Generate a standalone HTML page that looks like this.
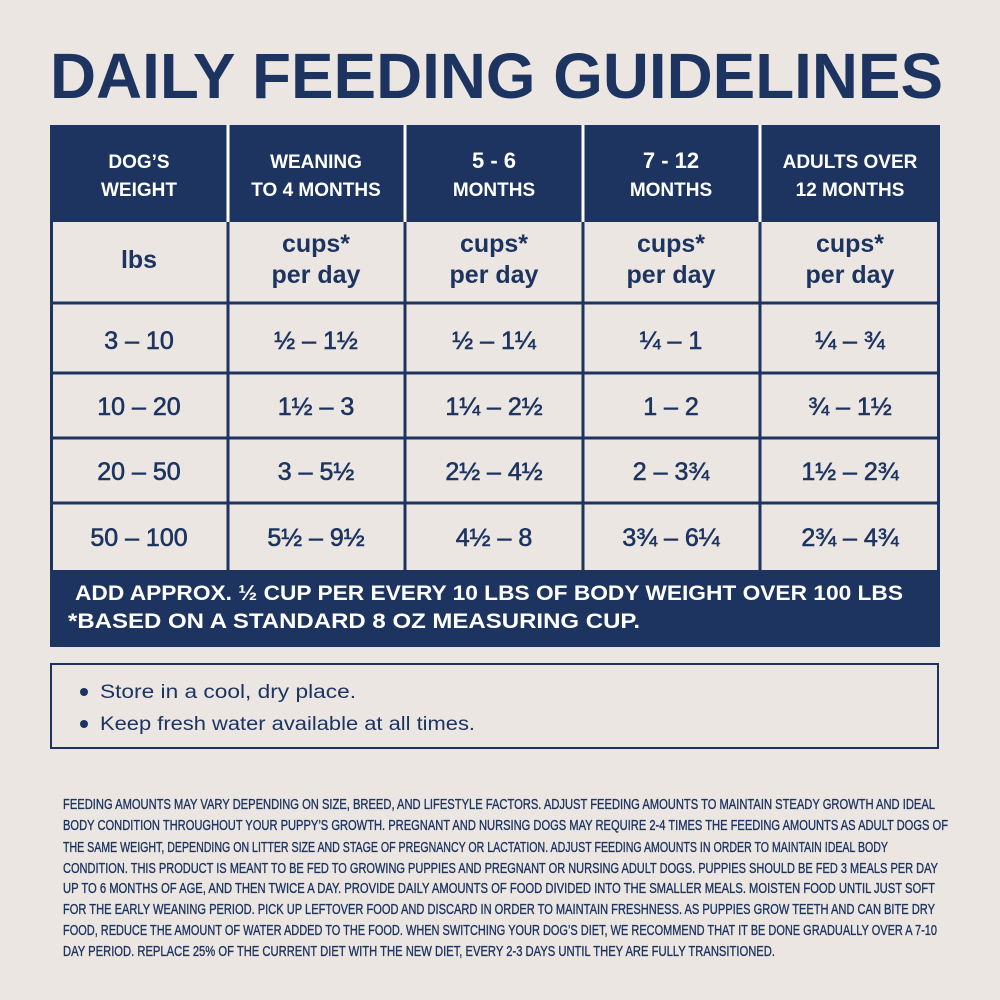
<!DOCTYPE html>
<html><head><meta charset="utf-8"><style>
html,body{margin:0;padding:0;background:#ebe6e1;}
svg{display:block}
</style></head><body>
<svg width="1000" height="1000" viewBox="0 0 1000 1000" xmlns="http://www.w3.org/2000/svg">
<rect width="1000" height="1000" fill="#ebe6e1"/>
<g font-family="Liberation Sans, sans-serif" fill="#1d3461">
<text x="50" y="98" font-size="64" font-weight="bold" textLength="893" lengthAdjust="spacingAndGlyphs">DAILY FEEDING GUIDELINES</text>
</g>
<rect x="50" y="125" width="890" height="97" fill="#1d3461"/>
<rect x="50" y="570" width="890" height="77" fill="#1d3461"/>
<rect x="51.5" y="126.5" width="887" height="519" fill="none" stroke="#1d3461" stroke-width="3"/>
<g stroke="#ffffff" stroke-width="3">
<line x1="228" y1="125" x2="228" y2="222"/><line x1="405" y1="125" x2="405" y2="222"/>
<line x1="583" y1="125" x2="583" y2="222"/><line x1="760" y1="125" x2="760" y2="222"/>
</g>
<g stroke="#1d3461" stroke-width="3">
<line x1="228" y1="222" x2="228" y2="570"/><line x1="405" y1="222" x2="405" y2="570"/>
<line x1="583" y1="222" x2="583" y2="570"/><line x1="760" y1="222" x2="760" y2="570"/>
<line x1="50" y1="303" x2="940" y2="303"/><line x1="50" y1="373" x2="940" y2="373"/>
<line x1="50" y1="438" x2="940" y2="438"/><line x1="50" y1="503" x2="940" y2="503"/>
</g>
<g font-family="Liberation Sans, sans-serif" font-weight="bold" font-size="19" fill="#ffffff" text-anchor="middle">
<text x="139" y="168">DOG’S</text><text x="139" y="196">WEIGHT</text>
<text x="316" y="168">WEANING</text><text x="316" y="196">TO 4 MONTHS</text>
<text x="494" y="168" font-size="22">5 - 6</text><text x="494" y="196">MONTHS</text>
<text x="671" y="168" font-size="22">7 - 12</text><text x="671" y="196">MONTHS</text>
<text x="850" y="168">ADULTS OVER</text><text x="850" y="196">12 MONTHS</text>
</g>
<g font-family="Liberation Sans, sans-serif" font-weight="bold" font-size="25" fill="#1d3461" text-anchor="middle">
<text x="139" y="268">lbs</text>
<text x="316" y="252">cups*</text><text x="316" y="283">per day</text>
<text x="494" y="252">cups*</text><text x="494" y="283">per day</text>
<text x="671" y="252">cups*</text><text x="671" y="283">per day</text>
<text x="850" y="252">cups*</text><text x="850" y="283">per day</text>
</g>
<g font-family="Liberation Sans, sans-serif" font-size="25" fill="#1d3461" stroke="#1d3461" stroke-width="0.6" text-anchor="middle">
<text x="139" y="349">3 – 10</text><text x="316" y="349">½ – 1½</text><text x="494" y="349">½ – 1¼</text><text x="671" y="349">¼ – 1</text><text x="850" y="349">¼ – ¾</text>
<text x="139" y="415">10 – 20</text><text x="316" y="415">1½ – 3</text><text x="494" y="415">1¼ – 2½</text><text x="671" y="415">1 – 2</text><text x="850" y="415">¾ – 1½</text>
<text x="139" y="480">20 – 50</text><text x="316" y="480">3 – 5½</text><text x="494" y="480">2½ – 4½</text><text x="671" y="480">2 – 3¾</text><text x="850" y="480">1½ – 2¾</text>
<text x="139" y="546">50 – 100</text><text x="316" y="546">5½ – 9½</text><text x="494" y="546">4½ – 8</text><text x="671" y="546">3¾ – 6¼</text><text x="850" y="546">2¾ – 4¾</text>
</g>
<g font-family="Liberation Sans, sans-serif" font-weight="bold" font-size="21" fill="#ffffff">
<text x="75" y="600" textLength="828" lengthAdjust="spacingAndGlyphs">ADD APPROX. ½ CUP PER EVERY 10 LBS OF BODY WEIGHT OVER 100 LBS</text>
<text x="68" y="628" textLength="572" lengthAdjust="spacingAndGlyphs">*BASED ON A STANDARD 8 OZ MEASURING CUP.</text>
</g>
<rect x="51" y="664" width="887" height="84" fill="none" stroke="#1d3461" stroke-width="2"/>
<g font-family="Liberation Sans, sans-serif" font-size="19" fill="#1d3461">
<circle cx="84" cy="692" r="4"/><circle cx="84" cy="724" r="4"/>
<text x="100" y="698" textLength="256" lengthAdjust="spacingAndGlyphs">Store in a cool, dry place.</text>
<text x="100" y="730" textLength="375" lengthAdjust="spacingAndGlyphs">Keep fresh water available at all times.</text>
</g>
<g font-family="Liberation Sans Narrow, Liberation Sans, sans-serif" font-size="15" fill="#1d3461" stroke="#1d3461" stroke-width="0.35">
<text x="63" y="809" textLength="872" lengthAdjust="spacingAndGlyphs">FEEDING AMOUNTS MAY VARY DEPENDING ON SIZE, BREED, AND LIFESTYLE FACTORS. ADJUST FEEDING AMOUNTS TO MAINTAIN STEADY GROWTH AND IDEAL</text>
<text x="63" y="830" textLength="885" lengthAdjust="spacingAndGlyphs">BODY CONDITION THROUGHOUT YOUR PUPPY’S GROWTH. PREGNANT AND NURSING DOGS MAY REQUIRE 2-4 TIMES THE FEEDING AMOUNTS AS ADULT DOGS OF</text>
<text x="63" y="852" textLength="825" lengthAdjust="spacingAndGlyphs">THE SAME WEIGHT, DEPENDING ON LITTER SIZE AND STAGE OF PREGNANCY OR LACTATION. ADJUST FEEDING AMOUNTS IN ORDER TO MAINTAIN IDEAL BODY</text>
<text x="63" y="873" textLength="875" lengthAdjust="spacingAndGlyphs">CONDITION. THIS PRODUCT IS MEANT TO BE FED TO GROWING PUPPIES AND PREGNANT OR NURSING ADULT DOGS. PUPPIES SHOULD BE FED 3 MEALS PER DAY</text>
<text x="63" y="893" textLength="872" lengthAdjust="spacingAndGlyphs">UP TO 6 MONTHS OF AGE, AND THEN TWICE A DAY. PROVIDE DAILY AMOUNTS OF FOOD DIVIDED INTO THE SMALLER MEALS. MOISTEN FOOD UNTIL JUST SOFT</text>
<text x="63" y="914" textLength="872" lengthAdjust="spacingAndGlyphs">FOR THE EARLY WEANING PERIOD. PICK UP LEFTOVER FOOD AND DISCARD IN ORDER TO MAINTAIN FRESHNESS. AS PUPPIES GROW TEETH AND CAN BITE DRY</text>
<text x="63" y="935" textLength="874" lengthAdjust="spacingAndGlyphs">FOOD, REDUCE THE AMOUNT OF WATER ADDED TO THE FOOD. WHEN SWITCHING YOUR DOG’S DIET, WE RECOMMEND THAT IT BE DONE GRADUALLY OVER A 7-10</text>
<text x="63" y="956" textLength="712" lengthAdjust="spacingAndGlyphs">DAY PERIOD. REPLACE 25% OF THE CURRENT DIET WITH THE NEW DIET, EVERY 2-3 DAYS UNTIL THEY ARE FULLY TRANSITIONED.</text>
</g>
</svg>
</body></html>
